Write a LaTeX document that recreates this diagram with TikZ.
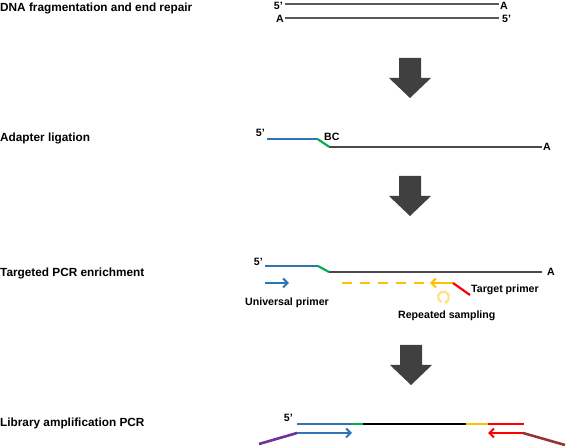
\documentclass[tikz,border=0pt]{standalone}
\usepackage{fontspec}
\setmainfont{Liberation Sans}
\usetikzlibrary{arrows.meta}
\definecolor{dgray}{HTML}{595959}
\definecolor{mgray}{HTML}{4A4A4A}
\definecolor{bluec}{HTML}{2E75B6}
\definecolor{greenc}{HTML}{00B050}
\definecolor{orangec}{HTML}{FFC000}
\definecolor{redc}{HTML}{FF0000}
\definecolor{purplec}{HTML}{7030A0}
\definecolor{brownc}{HTML}{943634}
\definecolor{paleorange}{HTML}{FFE08A}
\definecolor{arrowfill}{HTML}{404040}
\tikzset{
  heading/.style={anchor=base west,inner sep=0pt,font=\fontsize{11.8}{14}\selectfont\bfseries},
  lbl/.style={inner sep=0pt,font=\fontsize{10.6}{12}\selectfont\bfseries},
  strand/.style={line width=2.2pt,dgray},
  seg/.style={line width=2.2pt},
  lseg/.style={line width=2.6pt},
  barb/.style={-{Straight Barb[length=4.5pt,width=9pt,line width=2pt]}},
  pics/bigarrow/.style={code={
    \fill[arrowfill] (-11,0) -- (11,0) -- (11,20) -- (21,20) -- (0,40) -- (-21,20) -- (-11,20) -- cycle;
  }}
}
\begin{document}
\begin{tikzpicture}[x=1pt,y=-1pt]
\useasboundingbox (0,0) rectangle (566,446);
% headings
\node[heading] (h1) at (0,12) {DNA fragmentation and end repair};
\node[heading] (h2) at (0,142) {Adapter ligation};
\node[heading] (h3) at (0,276.5) {Targeted PCR enrichment};
\node[heading] (h4) at (0,427) {Library amplification PCR};

% step 1
\node[lbl,anchor=east] (t5a) at (283,5.5) {5'};
\node[lbl,anchor=west] (tAa) at (500,5.5) {A};
\node[lbl,anchor=east] (tAb) at (284,19) {A};
\node[lbl,anchor=west] (t5b) at (502,19) {5'};
\coordinate (s1a) at (285,4.3);
\coordinate (s1b) at (499,4.3);
\coordinate (s2a) at (285,18.3);
\coordinate (s2b) at (499,18.3);
\draw[strand] (s1a) -- (s1b);
\draw[strand] (s2a) -- (s2b);

\pic at (410,58) {bigarrow};

% step 2
\node[lbl,anchor=east] (a5) at (265,132.5) {5'};
\node[lbl,anchor=west] (aBC) at (324,137) {BC};
\node[lbl,anchor=west] (aA) at (543,147) {A};
\coordinate (b1) at (267,139.3);
\coordinate (b2) at (318,139.3);
\coordinate (b3) at (329,146.7);
\coordinate (b4) at (542,146.7);
\draw[seg,bluec] (b1) -- (b2);
\draw[seg,greenc] (b2) -- (b3);
\draw[seg,mgray] (b3) -- (b4);

\pic at (410,176) {bigarrow};

% step 3
\node[lbl,anchor=east] (c5) at (263,262) {5'};
\node[lbl,anchor=west] (cA) at (547,272) {A};
\coordinate (c1) at (265,266);
\coordinate (c2) at (318,266);
\coordinate (c3) at (329,272);
\coordinate (c4) at (542,272);
\draw[seg,bluec] (c1) -- (c2);
\draw[seg,greenc] (c2) -- (c3);
\draw[seg,mgray] (c3) -- (c4);
\coordinate (u1) at (265,283);
\coordinate (u2) at (289,283);
\draw[seg,bluec,line width=2.4pt,barb] (u1) -- (u2);
\node[lbl,anchor=base west] (up) at (245,306) {Universal primer};
\coordinate (d1) at (342,283);
\coordinate (d2) at (428,283);
\draw[seg,orangec,line width=2.4pt,dash pattern=on 10pt off 8pt] (d1) -- (d2);
\coordinate (o1) at (453,283);
\coordinate (o2) at (430,283);
\draw[seg,orangec,line width=2.4pt,barb] (o1) -- (o2);
\coordinate (r2) at (470,295);
\draw[seg,redc] (o1) -- (r2);
\node[lbl,anchor=base west] (tp) at (471,293) {Target primer};
\coordinate (rc) at (443.5,297);
\draw[paleorange,line width=2.2pt,-{Straight Barb[length=1.5pt,width=4pt,line width=1.2pt]}] ([shift={(110:5.5)}]rc) arc[start angle=110,end angle=440,radius=5.5];
\node[lbl,anchor=base west] (rs) at (398,319) {Repeated sampling};

\pic at (411,345) {bigarrow};

% step 4
\node[lbl,anchor=east] (l5) at (293,418) {5'};
\coordinate (l1) at (297,424);
\coordinate (l2) at (352,424);
\coordinate (l3) at (363,424);
\coordinate (l4) at (466,424);
\coordinate (l5e) at (488,424);
\coordinate (l6) at (524,424);
\draw[lseg,bluec] (l1) -- (l2);
\draw[lseg,greenc] (l2) -- (l3);
\draw[lseg,black] (l3) -- (l4);
\draw[lseg,orangec] (l4) -- (l5e);
\draw[lseg,redc] (l5e) -- (l6);
\coordinate (m1) at (297,433);
\coordinate (m2) at (352,433);
\coordinate (m0) at (259,444);
\draw[lseg,bluec,barb] (m1) -- (m2);
\draw[lseg,purplec] (m1) -- (m0);
\coordinate (n1) at (523,433);
\coordinate (n2) at (488,433);
\coordinate (n0) at (565,445);
\draw[lseg,redc,barb] (n1) -- (n2);
\draw[lseg,brownc] (n1) -- (n0);
\end{tikzpicture}
\end{document}
